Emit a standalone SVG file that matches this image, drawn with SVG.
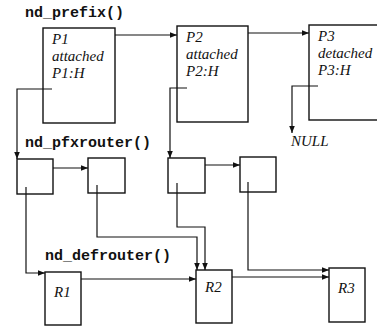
<svg xmlns="http://www.w3.org/2000/svg" width="377" height="328" viewBox="0 0 377 328">
<style>
.box{fill:#fff;stroke:#111;stroke-width:1.4}
.ln{fill:none;stroke:#111;stroke-width:1.2}
.it{font-family:"Liberation Serif",serif;font-style:italic;font-size:15px;fill:#111}
.mono{font-family:"Liberation Mono",monospace;font-weight:bold;font-size:15px;fill:#111}
</style>
<defs>
<marker id="ah" viewBox="0 0 10 10" refX="10" refY="5" markerWidth="7" markerHeight="7" markerUnits="userSpaceOnUse" orient="auto">
<path d="M0,1 L10,5 L0,9 Z" fill="#111"/>
</marker>
</defs>
<rect width="377" height="328" fill="#fff"/>
<text class="mono" x="25" y="17">nd_prefix()</text>
<text class="mono" x="25" y="147">nd_pfxrouter()</text>
<text class="mono" x="45" y="260">nd_defrouter()</text>
<g id="P1"><rect class="box" x="43" y="28" width="72" height="95"/>
<text class="it" x="52" y="44">P1</text><text class="it" x="52" y="61">attached</text><text class="it" x="52" y="78">P1:H</text></g>
<g id="P2"><rect class="box" x="177" y="26" width="71" height="96"/>
<text class="it" x="186" y="42">P2</text><text class="it" x="186" y="59">attached</text><text class="it" x="186" y="76">P2:H</text></g>
<g id="P3"><rect class="box" x="309" y="25" width="75" height="95"/>
<text class="it" x="318" y="41">P3</text><text class="it" x="318" y="58">detached</text><text class="it" x="318" y="75">P3:H</text></g>
<g id="NULL"><text class="it" x="291" y="146">NULL</text></g>
<g id="A"><rect class="box" x="17" y="159" width="36" height="35"/></g>
<g id="B"><rect class="box" x="88" y="158" width="37" height="35"/></g>
<g id="C"><rect class="box" x="168" y="158" width="37" height="35"/></g>
<g id="D"><rect class="box" x="240" y="157" width="36" height="35"/></g>
<g id="R1"><rect class="box" x="45" y="272" width="36" height="53"/><text class="it" x="54" y="297">R1</text></g>
<g id="R2"><rect class="box" x="196" y="270" width="36" height="53"/><text class="it" x="205" y="292">R2</text></g>
<g id="R3"><rect class="box" x="329" y="268" width="36" height="54"/><text class="it" x="338" y="293">R3</text></g>
<g id="connectors">
<path class="ln" d="M115,35 H177" marker-end="url(#ah)"/>
<path class="ln" d="M248,33 H309" marker-end="url(#ah)"/>
<path class="ln" d="M52,89 H17 V159" marker-end="url(#ah)"/>
<path class="ln" d="M187,88 H170 V158" marker-end="url(#ah)"/>
<path class="ln" d="M318,86 H292 V133" marker-end="url(#ah)"/>
<path class="ln" d="M53,168 H88" marker-end="url(#ah)"/>
<path class="ln" d="M205,165 H240" marker-end="url(#ah)"/>
<path class="ln" d="M26,187 V273 H45" marker-end="url(#ah)"/>
<path class="ln" d="M97,185 V237 H197 V270" marker-end="url(#ah)"/>
<path class="ln" d="M177,183 V227 H205 V270" marker-end="url(#ah)"/>
<path class="ln" d="M248,182 V270 H329" marker-end="url(#ah)"/>
<path class="ln" d="M81,279 H196" marker-end="url(#ah)"/>
<path class="ln" d="M232,277 H329" marker-end="url(#ah)"/>
</g>
</svg>
